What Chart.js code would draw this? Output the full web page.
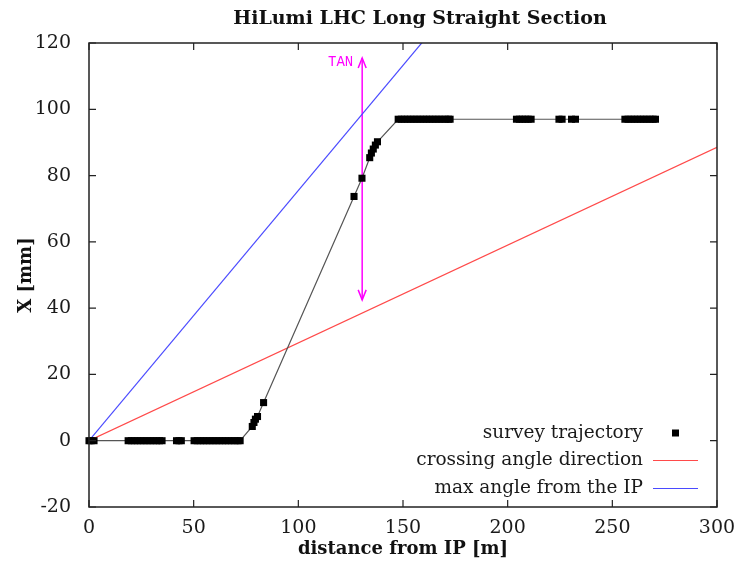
<!DOCTYPE html>
<html>
<head>
<meta charset="utf-8">
<script src="https://cdn.jsdelivr.net/npm/chart.js@4.4.1/dist/chart.umd.min.js"></script>
<style>
  html, body { margin: 0; padding: 0; background: #fff; }
  #wrap { width: 743px; height: 562px; }
</style>
</head>
<body>
<div id="wrap"><canvas id="lssChart" width="743" height="562"></canvas></div>
<script>
const titleText = 'HiLumi LHC Long Straight Section';
const xTicks = [0, 50, 100, 150, 200, 250, 300];
const yTicks = [-20, 0, 20, 40, 60, 80, 100, 120];

// survey trajectory, distance from IP [m] and X [mm]
const surveyDist = [
  0, 1, 2.4,
  18.7, 20.2, 21.7, 23.2, 24.7, 26.2, 27.7, 29.2, 30.7, 32.2, 33.7, 34.9,
  41.8, 43, 44.1,
  50.2, 51.7, 53.2, 54.7, 56.2, 57.7, 59.2, 60.7, 62.2, 63.7, 65.2, 66.7, 68.2, 69.7, 71.2, 72.2,
  78, 78.8, 79.5, 80.5, 83.4,
  126.6, 130.4, 134.1, 134.9, 135.8, 136.8, 137.8,
  147.7, 149.2, 150.7, 152.2, 153.7, 155.2, 156.7, 158.2, 159.7, 161.2, 162.7, 164.2, 165.7, 167.2, 168.7, 170.2, 171.7, 172.5,
  204.2, 205.6, 207, 208.4, 209.8, 211.2,
  224.5, 226,
  230.5, 232.4,
  256, 257.5, 259, 260.5, 262, 263.5, 265, 266.5, 268, 269.5, 270.6
];
const surveyX = [
  0, 0, 0,
  0, 0, 0, 0, 0, 0, 0, 0, 0, 0, 0, 0,
  0, 0, 0,
  0, 0, 0, 0, 0, 0, 0, 0, 0, 0, 0, 0, 0, 0, 0, 0,
  4.3, 5.5, 6.5, 7.3, 11.5,
  73.7, 79.2, 85.4, 86.8, 88, 89.2, 90.2,
  97, 97, 97, 97, 97, 97, 97, 97, 97, 97, 97, 97, 97, 97, 97, 97, 97, 97,
  97, 97, 97, 97, 97, 97,
  97, 97,
  97, 97,
  97, 97, 97, 97, 97, 97, 97, 97, 97, 97, 97
];

const crossingDist = [0, 300];
const crossingX = [0, 88.5];

const maxAngleDist = [0, 300];
const maxAngleX = [0, 226.5];

const tanDist = [130.5, 130.5];
const tanX = [42.5, 115.5];

const toXY = (xs, ys) => xs.map((x, i) => ({ x: x, y: ys[i] }));

const serif = '"DejaVu Serif", "Liberation Serif", serif';

// frame, inward ticks, arrow heads, legend and title
const decorPlugin = {
  id: 'decor',
  afterDraw(chart) {
    const ctx = chart.ctx;
    const a = chart.chartArea;
    const xs = chart.scales.x;
    const ys = chart.scales.y;
    ctx.save();

    // TAN arrow heads + label
    const tan = chart.data.datasets[3];
    const ax = xs.getPixelForValue(tanDist[0]);
    const yLow = ys.getPixelForValue(tanX[0]);
    const yHigh = ys.getPixelForValue(tanX[1]);
    ctx.strokeStyle = tan.borderColor;
    ctx.lineWidth = 1.5;
    ctx.beginPath();
    ctx.moveTo(ax - 4, yLow - 10); ctx.lineTo(ax, yLow); ctx.lineTo(ax + 4, yLow - 10);
    ctx.moveTo(ax - 4, yHigh + 10); ctx.lineTo(ax, yHigh); ctx.lineTo(ax + 4, yHigh + 10);
    ctx.stroke();
    ctx.fillStyle = tan.borderColor;
    ctx.font = '14px "Liberation Mono", "DejaVu Sans Mono", monospace';
    ctx.textAlign = 'right';
    ctx.textBaseline = 'middle';
    ctx.fillText(tan.label, ax - 9, yHigh + 4);

    // frame
    ctx.strokeStyle = '#222';
    ctx.lineWidth = 1.5;
    ctx.strokeRect(a.left, a.top, a.right - a.left, a.bottom - a.top);

    // inward ticks on all four sides
    ctx.lineWidth = 1.2;
    ctx.beginPath();
    xTicks.forEach(v => {
      const px = xs.getPixelForValue(v);
      ctx.moveTo(px, a.bottom); ctx.lineTo(px, a.bottom - 7);
      ctx.moveTo(px, a.top); ctx.lineTo(px, a.top + 7);
    });
    yTicks.forEach(v => {
      const py = ys.getPixelForValue(v);
      ctx.moveTo(a.left, py); ctx.lineTo(a.left + 7, py);
      ctx.moveTo(a.right, py); ctx.lineTo(a.right - 7, py);
    });
    ctx.stroke();

    // legend, gnuplot style: text right aligned, sample on the right
    ctx.font = '18.5px ' + serif;
    ctx.textAlign = 'right';
    ctx.textBaseline = 'middle';
    const textRight = a.right - 74;
    const rowY = [a.bottom - 74, a.bottom - 46.5, a.bottom - 18.5];
    [0, 1, 2].forEach((k, i) => {
      const ds = chart.data.datasets[k];
      ctx.fillStyle = '#1a1a1a';
      ctx.fillText(ds.label, textRight, rowY[i]);
      if (k === 0) {
        ctx.fillStyle = '#000';
        ctx.fillRect(textRight + 29, rowY[i] - 3.5, 7, 7);
      } else {
        ctx.strokeStyle = ds.borderColor;
        ctx.lineWidth = 1.2;
        ctx.beginPath();
        ctx.moveTo(textRight + 10, rowY[i]);
        ctx.lineTo(textRight + 55, rowY[i]);
        ctx.stroke();
      }
    });

    // title
    ctx.fillStyle = '#111';
    ctx.font = 'bold 19px ' + serif;
    ctx.textAlign = 'center';
    ctx.fillText(titleText, 420, 19);
    ctx.restore();
  }
};

new Chart(document.getElementById('lssChart'), {
  type: 'scatter',
  data: {
    datasets: [
      {
        label: 'survey trajectory',
        data: toXY(surveyDist, surveyX),
        showLine: true,
        borderColor: '#555',
        borderWidth: 1.2,
        pointStyle: 'rect',
        pointRadius: 5,
        pointBackgroundColor: '#000',
        pointBorderWidth: 0,
        clip: 10,
        order: 0
      },
      {
        label: 'crossing angle direction',
        data: toXY(crossingDist, crossingX),
        showLine: true,
        borderColor: '#ff4a4a',
        borderWidth: 1.2,
        pointRadius: 0,
        order: 1
      },
      {
        label: 'max angle from the IP',
        data: toXY(maxAngleDist, maxAngleX),
        showLine: true,
        borderColor: '#4a4aff',
        borderWidth: 1.2,
        pointRadius: 0,
        order: 2
      },
      {
        label: 'TAN',
        data: toXY(tanDist, tanX),
        showLine: true,
        borderColor: '#ff00ff',
        borderWidth: 1.5,
        pointRadius: 0,
        order: 3
      }
    ]
  },
  options: {
    responsive: false,
    animation: false,
    layout: { padding: { top: 43, right: 26, left: 0, bottom: 0 } },
    plugins: {
      legend: { display: false },
      tooltip: { enabled: false }
    },
    scales: {
      x: {
        type: 'linear',
        min: 0,
        max: 300,
        afterFit: (scale) => { scale.height = 55; },
        afterBuildTicks: (scale) => { scale.ticks = xTicks.map(v => ({ value: v })); },
        grid: { display: false },
        border: { display: false },
        ticks: { color: '#1a1a1a', font: { family: serif, size: 19 }, padding: 2, maxRotation: 0 },
        title: {
          display: true,
          text: 'distance from IP [m]',
          color: '#111',
          font: { family: serif, size: 18, weight: 'bold' },
          padding: { top: 0, bottom: 2 }
        }
      },
      y: {
        type: 'linear',
        min: -20,
        max: 120,
        afterFit: (scale) => { scale.width = 89; },
        afterBuildTicks: (scale) => { scale.ticks = yTicks.map(v => ({ value: v })); },
        grid: { display: false },
        border: { display: false },
        ticks: { color: '#1a1a1a', font: { family: serif, size: 19 }, padding: 10 },
        title: {
          display: true,
          text: 'X [mm]',
          color: '#111',
          font: { family: serif, size: 18, weight: 'bold' },
          padding: { top: 16, bottom: 0 }
        }
      }
    }
  },
  plugins: [decorPlugin]
});
</script>
</body>
</html>
